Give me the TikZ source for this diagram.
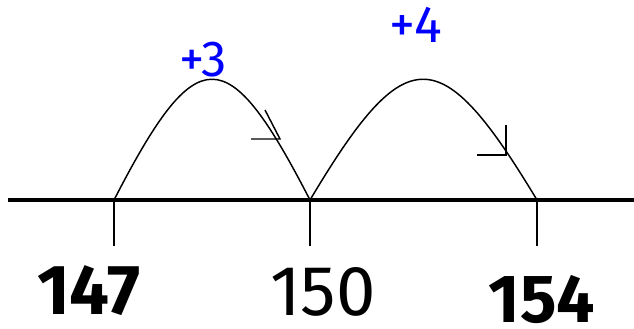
\documentclass[tikz,border=0pt]{standalone}
\usepackage{fontspec}
\setmainfont{Fira Sans}
\tikzset{
  jump/.style={line width=1.1pt},
  hook/.style={line width=1.1pt},
  tickmark/.style={line width=1.1pt},
  bignum/.style={inner sep=0pt, font=\fontsize{53}{60}\selectfont\bfseries},
  plainnum/.style={inner sep=0pt, font=\fontsize{53}{60}\selectfont},
  steplabel/.style={inner sep=0pt, text=blue, font=\fontsize{38}{42}\selectfont}
}
\begin{document}
\begin{tikzpicture}[x=0.75pt, y=0.75pt]
  \useasboundingbox (0,0) rectangle (634,328);
  % number line
  \draw[line width=3pt] (8,128) -- (634,128);
  \coordinate (p147) at (114,128);
  \coordinate (p150) at (310,128);
  \coordinate (p154) at (537,128);
  \draw[tickmark] (p147) -- ++(0,-46);
  \draw[tickmark] (p150) -- ++(0,-46);
  \draw[tickmark] (p154) -- ++(0,-46);
  % jumps
  \draw[jump] (p147) .. controls (197,289) and (227,289) .. (p150);
  \draw[jump] (p150) .. controls (406,289) and (440,289) .. (p154);
  % hand drawn arrow heads
  \coordinate (tipa) at (280,189);
  \draw[hook] (251,189) -- (tipa) -- (265,218);
  \coordinate (tipb) at (506,173);
  \draw[hook] (477,173) -- (tipb) -- (506,203);
  % labels
  \node[steplabel] (jumpa) at (203,268) {+3};
  \node[steplabel, font=\fontsize{39}{44}\selectfont] (jumpb) at (416,303) {+4};
  \node[bignum] (n147) at (89,37) {147};
  \node[plainnum] (n150) at (323,36) {150};
  \node[bignum, font=\fontsize{51}{58}\selectfont\bfseries] (n154) at (542,28) {154};
\end{tikzpicture}
\end{document}
